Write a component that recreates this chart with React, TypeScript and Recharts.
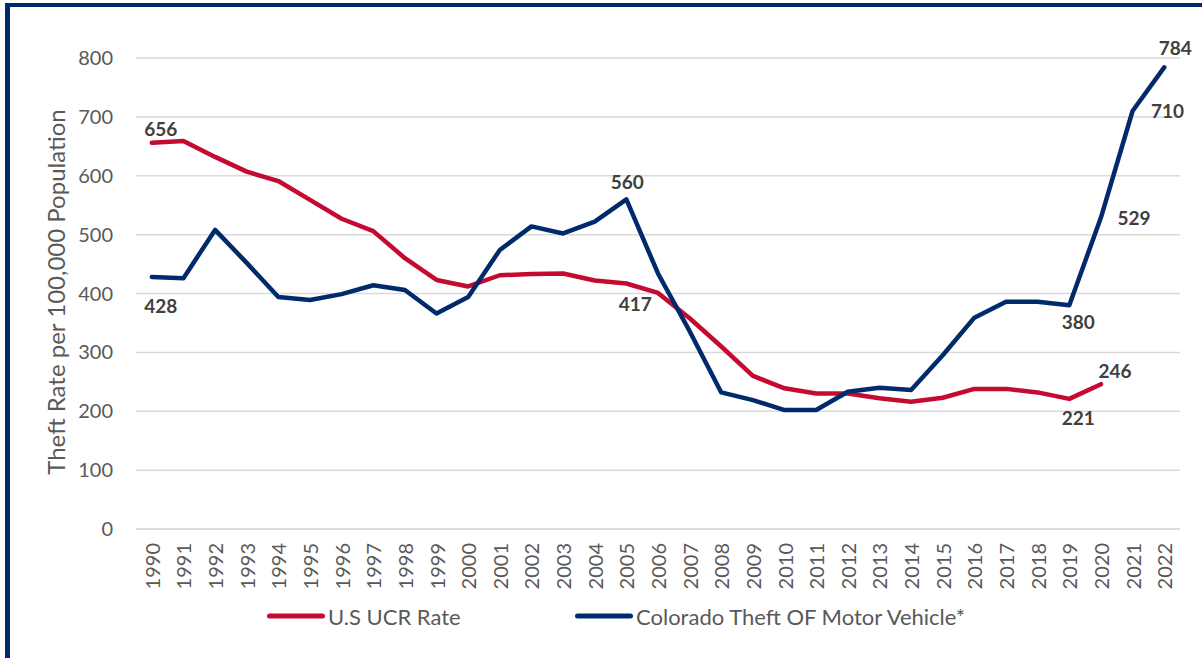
import { CartesianGrid, LabelList, Legend, Line, LineChart, XAxis, YAxis } from "recharts";

const years = [
  "1990", "1991", "1992", "1993", "1994", "1995", "1996", "1997", "1998", "1999", "2000",
  "2001", "2002", "2003", "2004", "2005", "2006", "2007", "2008", "2009", "2010", "2011",
  "2012", "2013", "2014", "2015", "2016", "2017", "2018", "2019", "2020", "2021", "2022",
];

const usUcrRate = [
  656, 659, 632, 607, 591, 559, 527, 506, 460, 423, 412, 431, 433, 434, 422, 417, 401,
  358, 310, 260, 239, 230, 230, 222, 216, 223, 238, 238, 232, 221, 246,
];

const coloradoTheft = [
  428, 426, 508, 452, 394, 389, 399, 414, 406, 366, 394, 474, 514, 502, 522, 560, 434,
  336, 232, 219, 202, 202, 233, 240, 236, 295, 359, 386, 386, 380, 529, 710, 784,
];

const yTicks = [0, 100, 200, 300, 400, 500, 600, 700, 800];

// which points get a value label: [index, dx, dy]
const usLabelSpots: [number, number, number][] = [
  [0, 9, -14],
  [15, 9, 20],
  [29, 9, 19],
  [30, 14, -14],
];
const coLabelSpots: [number, number, number][] = [
  [0, 9, 28],
  [15, 1, -18],
  [29, 9, 16],
  [30, 33, 0],
  [31, 35, 0],
  [32, 11, -20],
];

const RED = "#C50A32";
const BLUE = "#012A6C";
const GRAY = "#595959";
const FONT = "Lato, 'Open Sans', sans-serif";

const data = years.map((year, i) => ({
  year,
  us: i < usUcrRate.length ? usUcrRate[i] : null,
  co: coloradoTheft[i],
}));

function makeLabel(spots: [number, number, number][]) {
  return (props: any) => {
    const { x, y, index, value } = props;
    const spot = spots.find((s) => s[0] === index);
    if (!spot || value == null) return null;
    return (
      <text
        x={x + spot[1]}
        y={y + spot[2]}
        textAnchor="middle"
        dominantBaseline="central"
        fontFamily={FONT}
        fontWeight={700}
        fontSize={19}
        fill="#404040"
      >
        {value}
      </text>
    );
  };
}

function YearTick(props: any) {
  const { x, y, payload } = props;
  return (
    <text
      transform={`translate(${x},${y}) rotate(-90)`}
      textAnchor="end"
      dominantBaseline="central"
      fontFamily={FONT}
      fontSize={20}
      fill={GRAY}
    >
      {payload.value}
    </text>
  );
}

function LegendItems() {
  const items = [
    { name: "U.S UCR Rate", color: RED, left: 267 },
    { name: "Colorado Theft OF Motor Vehicle*", color: BLUE, left: 575 },
  ];
  return (
    <div style={{ position: "relative", height: 24 }}>
      {items.map((it) => (
        <div
          key={it.name}
          style={{
            position: "absolute",
            left: it.left,
            top: 0,
            display: "flex",
            alignItems: "center",
            height: 24,
          }}
        >
          <svg width={58} height={10}>
            <line x1={2.5} y1={5} x2={55.5} y2={5} stroke={it.color} strokeWidth={5} strokeLinecap="round" />
          </svg>
          <span style={{ marginLeft: 3, fontFamily: FONT, fontSize: 22, color: GRAY, whiteSpace: "nowrap" }}>
            {it.name}
          </span>
        </div>
      ))}
    </div>
  );
}

export default function App() {
  return (
    <div
      style={{
        position: "fixed",
        left: 0,
        top: 0,
        width: 1202,
        height: 658,
        overflow: "hidden",
        background: "#fff",
      }}
    >
      <div
        style={{
          position: "absolute",
          left: 5,
          top: 3,
          width: 1400,
          height: 900,
          borderTop: `4px solid ${BLUE}`,
          borderLeft: `5px solid ${BLUE}`,
        }}
      />
      <div style={{ position: "absolute", left: 0, top: 0 }}>
        <LineChart
          width={1202}
          height={658}
          data={data}
          margin={{ top: 58, right: 22, bottom: 0, left: 0 }}
        >
          <CartesianGrid vertical={false} stroke="#D9D9D9" strokeWidth={1.5} />
          <XAxis
            dataKey="year"
            interval={0}
            padding={{ left: 15.8, right: 15.8 }}
            axisLine={{ stroke: "#D9D9D9", strokeWidth: 1.5 }}
            tickLine={false}
            tick={<YearTick />}
            tickSize={0}
            tickMargin={14}
            height={105}
          />
          <YAxis
            domain={[0, 800]}
            ticks={yTicks}
            width={136}
            axisLine={false}
            tickLine={false}
            tickSize={0}
            tickMargin={23}
            tick={{ fill: GRAY, fontSize: 20, fontFamily: FONT }}
            label={{
              content: () => (
                <text
                  transform="translate(55,292) rotate(-90)"
                  textAnchor="middle"
                  dominantBaseline="central"
                  fontFamily={FONT}
                  fontSize={24}
                  fill={GRAY}
                >
                  Theft Rate per 100,000 Population
                </text>
              ),
            }}
          />
          <Legend
            verticalAlign="bottom"
            content={() => <LegendItems />}
            wrapperStyle={{ left: 0, top: 604, width: 1202 }}
          />
          <Line
            type="linear"
            dataKey="us"
            name="U.S UCR Rate"
            stroke={RED}
            strokeWidth={4.5}
            strokeLinejoin="round"
            strokeLinecap="round"
            dot={false}
            activeDot={false}
            connectNulls={false}
            isAnimationActive={false}
          >
            <LabelList dataKey="us" content={makeLabel(usLabelSpots)} />
          </Line>
          <Line
            type="linear"
            dataKey="co"
            name="Colorado Theft OF Motor Vehicle*"
            stroke={BLUE}
            strokeWidth={4.5}
            strokeLinejoin="round"
            strokeLinecap="round"
            dot={false}
            activeDot={false}
            isAnimationActive={false}
          >
            <LabelList dataKey="co" content={makeLabel(coLabelSpots)} />
          </Line>
        </LineChart>
      </div>
    </div>
  );
}
